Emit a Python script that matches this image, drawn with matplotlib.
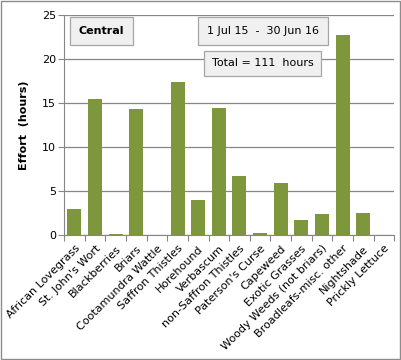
import matplotlib.pyplot as plt
import numpy as np

weeds = ['African Lovegrass', "St. John's Wort", 'Blackberries', 'Briars',
         'Cootamundra Wattle', 'Saffron Thistles', 'Horehound', 'Verbascum',
         'non-Saffron Thistles', "Paterson's Curse", 'Capeweed', 'Exotic Grasses',
         'Woody Weeds (not briars)', 'Broadleafs-misc. other', 'Nightshade',
         'Prickly Lettuce']
hours = [3.0, 15.5, 0.15, 14.3, 0.0, 17.4, 4.0, 14.4,
         6.7, 0.25, 5.9, 1.7, 2.4, 22.7, 2.5, 0.0]
yticks = [0, 5, 10, 15, 20, 25]

plt.rcParams['font.family'] = 'DejaVu Sans'

fig = plt.figure(figsize=(4.01, 3.6), dpi=100)
ax = fig.add_axes([0.16, 0.347, 0.823, 0.611])

x = np.arange(len(weeds))
ax.bar(x, hours, width=0.68, color='#7f973c', zorder=3)

ax.set_xlim(-0.5, len(weeds) - 0.5)
ax.set_ylim(0, 25)
ax.set_yticks(yticks)
ax.yaxis.grid(True, color='#868686', linewidth=0.9, zorder=0)
ax.tick_params(axis='y', labelsize=8, length=4, color='#868686', pad=2)

# category boundary ticks, labels centred
ax.set_xticks(np.arange(-0.5, len(weeds) + 0.5, 1), minor=False)
ax.set_xticklabels([])
ax.set_xticks(x, minor=True)
ax.set_xticklabels(weeds, minor=True, rotation=45, ha='right',
                   rotation_mode='anchor', fontsize=8)
ax.tick_params(axis='x', which='major', length=4, color='#868686')
ax.tick_params(axis='x', which='minor', length=0, pad=6)

for side in ['top', 'right']:
    ax.spines[side].set_visible(False)
for side in ['left', 'bottom']:
    ax.spines[side].set_color('#868686')

ax.set_ylabel('Effort  (hours)', fontsize=8, fontweight='bold', labelpad=9)

fig.text(0.253, 0.913, 'Central', fontsize=8, fontweight='bold', ha='center', va='center',
         bbox=dict(boxstyle='square,pad=0.8', facecolor='#f0f0f0', edgecolor='#a6a6a6', linewidth=0.9))
fig.text(0.656, 0.913, '1 Jul 15  -  30 Jun 16', fontsize=8, ha='center', va='center',
         bbox=dict(boxstyle='square,pad=0.8', facecolor='#f0f0f0', edgecolor='#a6a6a6', linewidth=0.9))
fig.text(0.655, 0.824, 'Total = 111  hours', fontsize=8, ha='center', va='center',
         bbox=dict(boxstyle='square,pad=0.7', facecolor='#f0f0f0', edgecolor='#a6a6a6', linewidth=0.9))

fig.patches.append(plt.Rectangle((0.002, 0.003), 0.995, 0.994, transform=fig.transFigure,
                                 fill=False, edgecolor='#8c8c8c', linewidth=1))

fig.savefig('out.png', dpi=100)
